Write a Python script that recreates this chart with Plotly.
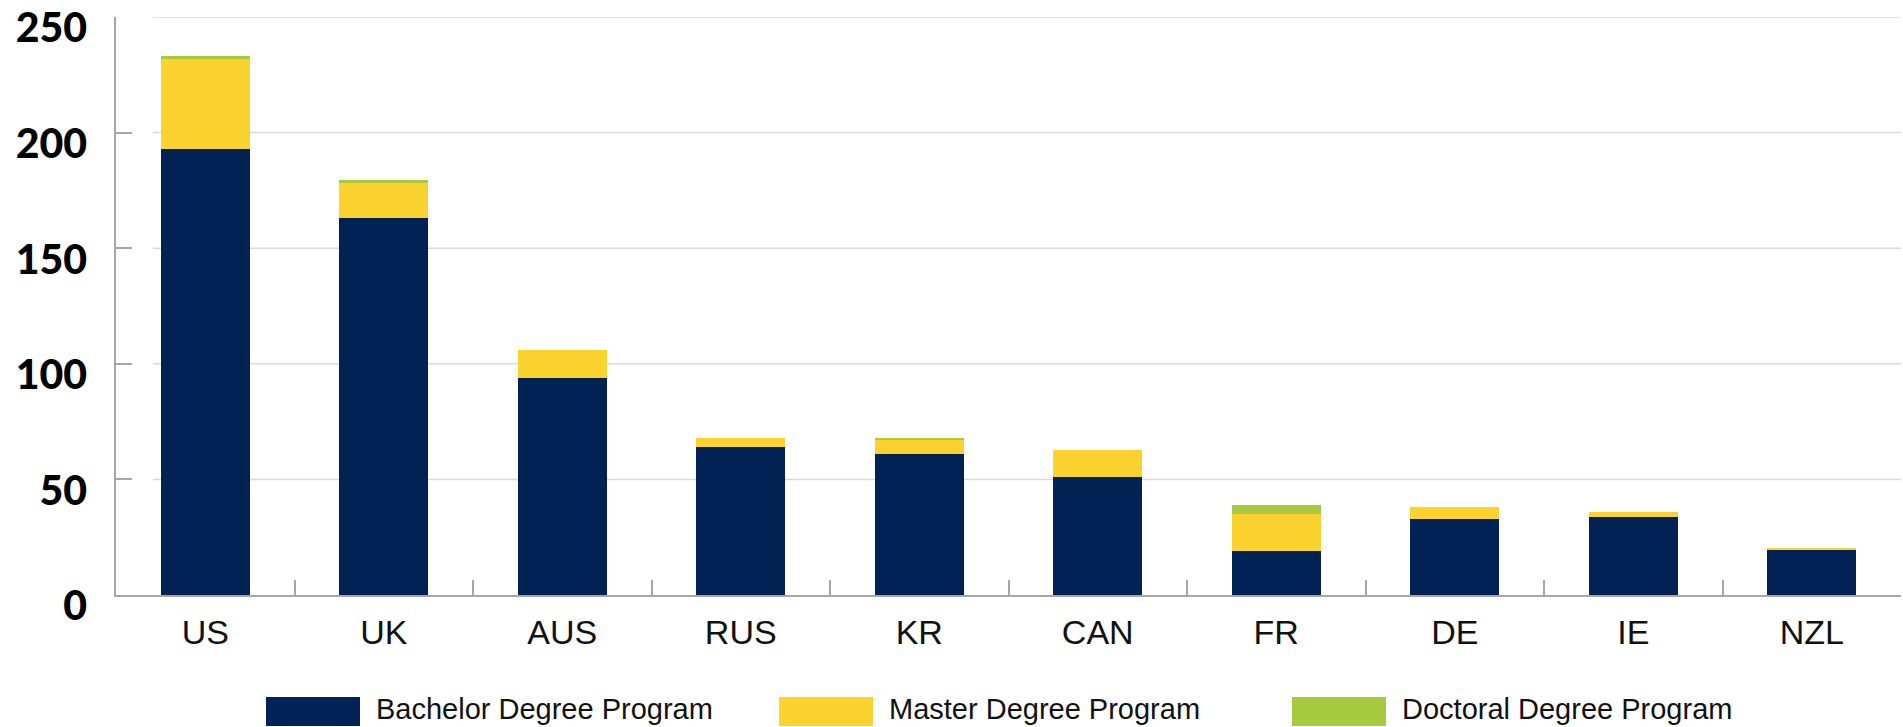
import plotly.graph_objects as go

countries = ["US", "UK", "AUS", "RUS", "KR", "CAN", "FR", "DE", "IE", "NZL"]
bachelor = [193, 163, 94, 64, 61, 51, 19, 33, 33.7, 19.8]
master = [38.7, 15, 12, 4, 6.4, 11.6, 16, 5, 2, 0.7]
doctoral = [1.3, 1.5, 0, 0, 0.5, 0, 4, 0, 0, 0]

series_names = ["Bachelor Degree Program", "Master Degree Program", "Doctoral Degree Program"]
series_values = [bachelor, master, doctoral]
series_colors = ["#022256", "#FCD22E", "#A6CA40"]

y_ticks = [0, 50, 100, 150, 200, 250]

W, H = 1903, 727
L, R, T, B = 116, 2, 17, 132
pw = W - L - R
ph = H - T - B

fig = go.Figure()
for name, vals, col in zip(series_names, series_values, series_colors):
    fig.add_trace(go.Bar(x=countries, y=vals, name=name, marker=dict(color=col, line=dict(width=0)),
                         showlegend=False))

shapes = []
annotations = []
# gridlines (start a little right of the y axis like the original)
for v in y_ticks[1:]:
    shapes.append(dict(type="line", xref="x domain", yref="y", x0=(153 - L) / pw, x1=1, y0=v, y1=v,
                       line=dict(color="#D9D9D9", width=1.5), layer="below"))

# custom legend
def px2paper_x(px):
    return (px - L) / pw

def px2paper_y(py):
    return (H - B - py) / ph

legend_x = [266, 779, 1292]
for lx, name, col in zip(legend_x, series_names, series_colors):
    shapes.append(dict(type="rect", xref="paper", yref="paper",
                       x0=px2paper_x(lx), x1=px2paper_x(lx + 94),
                       y0=px2paper_y(726), y1=px2paper_y(697),
                       fillcolor=col, line=dict(width=0)))
    annotations.append(dict(text=name, xref="paper", yref="paper", x=px2paper_x(lx + 108),
                            y=px2paper_y(709), xanchor="left", yanchor="middle", showarrow=False,
                            font=dict(family="Liberation Sans", size=29, color="#111111")))

fig.update_layout(
    barmode="stack",
    bargap=0.503,
    width=W, height=H,
    margin=dict(l=L, r=R, t=T, b=B, pad=0, autoexpand=False),
    plot_bgcolor="white", paper_bgcolor="white",
    shapes=shapes, annotations=annotations,
    xaxis=dict(type="category", range=[-0.5, 9.5], tickson="boundaries", ticks="inside", ticklen=15,
               tickcolor="#A6A6A6", tickwidth=1.5, showline=True, linecolor="#A6A6A6", linewidth=1.5,
               showgrid=False, ticklabelstandoff=6, automargin=False,
               tickfont=dict(family="Liberation Sans", size=34, color="#111111")),
    yaxis=dict(range=[0, 250], tickvals=y_ticks, ticks="inside", ticklen=16, tickcolor="#A6A6A6",
               tickwidth=1.5, showline=True, linecolor="#A6A6A6", linewidth=1.5, showgrid=False,
               zeroline=False, ticklabelstandoff=19, ticklabelshift=11, ticklabeloverflow="allow",
               automargin=False,
               tickfont=dict(family="Lato Black, Lato", size=41, color="#000000", weight=900)),
)

fig.write_html("out.html", config={"displayModeBar": False},
               post_script="document.body.style.margin='0';document.body.style.overflow='hidden';")
